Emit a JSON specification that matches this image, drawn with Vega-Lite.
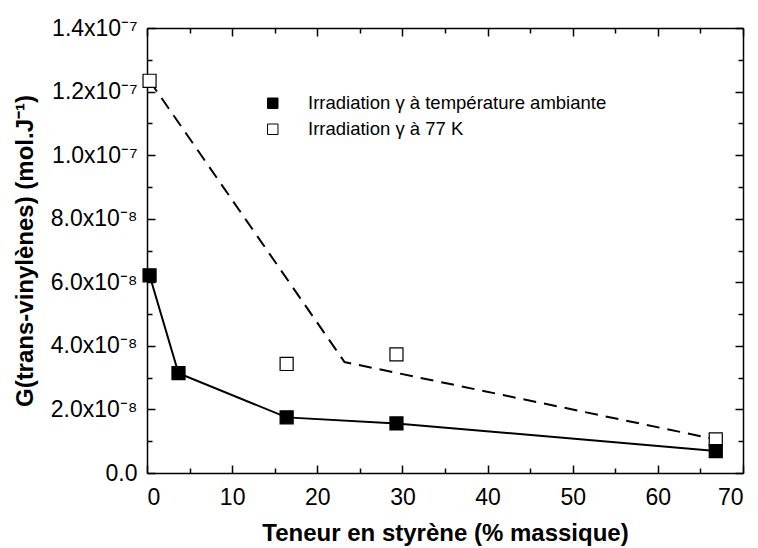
{
  "$schema": "https://vega.github.io/schema/vega-lite/v6.json",
  "width": 596,
  "height": 445,
  "autosize": {"type": "none"},
  "padding": {"left": 147, "top": 28, "right": 15, "bottom": 75},
  "background": "white",
  "config": {
    "view": {"stroke": null},
    "font": "Liberation Sans",
    "axis": {
      "grid": false,
      "domainColor": "black",
      "domainWidth": 1.5,
      "tickColor": "black",
      "tickWidth": 1.5,
      "labelColor": "black",
      "labelFont": "Liberation Sans",
      "labelFontSize": 23,
      "titleColor": "black",
      "titleFont": "Liberation Sans",
      "titleFontSize": 24,
      "titleFontWeight": "bold"
    },
    "legend": {
      "symbolType": "square",
      "symbolSize": 110,
      "symbolStrokeColor": "black",
      "symbolStrokeWidth": 1,
      "symbolOpacity": 1,
      "labelFont": "Liberation Sans",
      "labelFontSize": 18.5,
      "labelColor": "black",
      "labelOffset": 26,
      "labelLimit": 600,
      "rowPadding": 7,
      "padding": 0
    }
  },
  "datasets": {
    "pts": [
      {"x": 0.3, "y": 6.22e-8, "series": "Irradiation γ à température ambiante"},
      {"x": 3.7, "y": 3.14e-8, "series": "Irradiation γ à température ambiante"},
      {"x": 16.4, "y": 1.75e-8, "series": "Irradiation γ à température ambiante"},
      {"x": 29.3, "y": 1.56e-8, "series": "Irradiation γ à température ambiante"},
      {"x": 66.8, "y": 6.9e-9, "series": "Irradiation γ à température ambiante"},
      {"x": 0.3, "y": 1.234e-7, "series": "Irradiation γ à 77 K"},
      {"x": 16.4, "y": 3.43e-8, "series": "Irradiation γ à 77 K"},
      {"x": 29.3, "y": 3.73e-8, "series": "Irradiation γ à 77 K"},
      {"x": 66.8, "y": 1.06e-8, "series": "Irradiation γ à 77 K"}
    ],
    "fit": [
      {"x": 0.3, "y": 1.234e-7},
      {"x": 23.2, "y": 3.49e-8},
      {"x": 66.8, "y": 1.06e-8}
    ]
  },
  "resolve": {"axis": {"x": "independent", "y": "independent"}},
  "layer": [
    {
      "data": {"name": "fit"},
      "mark": {"type": "line", "color": "black", "strokeWidth": 2, "strokeDash": [13, 8]},
      "encoding": {
        "x": {
          "field": "x", "type": "quantitative",
          "scale": {"domain": [0, 70], "nice": false, "zero": true},
          "axis": {
            "orient": "bottom",
            "values": [0, 10, 20, 30, 40, 50, 60, 70],
            "format": "d",
            "tickSize": -8,
            "labelPadding": 21,
            "title": "Teneur en styrène (% massique)",
            "titleX": 298,
            "titleY": 67,
            "titleAlign": "center",
            "titleBaseline": "alphabetic"
          }
        },
        "y": {
          "field": "y", "type": "quantitative",
          "scale": {"domain": [0, 1.4e-7], "nice": false, "zero": true},
          "axis": {
            "orient": "left",
            "values": [0, 2e-8, 4e-8, 6e-8, 8e-8, 1e-7, 1.2e-7, 1.4e-7],
            "labelExpr": "datum.value < 9e-8 ? (datum.value == 0 ? '0.0' : format(datum.value * 1e8, '.1f') + 'x10⁻⁸') : format(datum.value * 1e7, '.1f') + 'x10⁻⁷'",
            "tickSize": -8,
            "labelPadding": 18,
            "title": "G(trans-vinylènes) (mol.J⁻¹)",
            "titleAngle": -90,
            "titleX": -115,
            "titleY": 222.5,
            "titleAlign": "center",
            "titleBaseline": "alphabetic"
          }
        }
      }
    },
    {
      "data": {"name": "pts"},
      "transform": [{"filter": "datum.series == 'Irradiation γ à température ambiante'"}],
      "mark": {"type": "line", "color": "black", "strokeWidth": 2},
      "encoding": {
        "x": {
          "field": "x", "type": "quantitative",
          "axis": {
            "orient": "bottom",
            "values": [5, 15, 25, 35, 45, 55, 65],
            "tickSize": -5,
            "labels": false,
            "domain": false,
            "title": null
          }
        },
        "y": {
          "field": "y", "type": "quantitative",
          "axis": {
            "orient": "left",
            "values": [1e-8, 3e-8, 5e-8, 7e-8, 9e-8, 1.1e-7, 1.3e-7],
            "tickSize": -5,
            "labels": false,
            "domain": false,
            "title": null
          }
        }
      }
    },
    {
      "data": {"name": "pts"},
      "transform": [{"filter": "datum.series == 'Irradiation γ à 77 K'"}],
      "mark": {"type": "point", "shape": "square", "filled": true, "stroke": "black", "strokeWidth": 1.2, "size": 170, "opacity": 1},
      "encoding": {
        "x": {
          "field": "x", "type": "quantitative",
          "axis": {
            "orient": "top",
            "values": [0, 10, 20, 30, 40, 50, 60, 70],
            "tickSize": -8,
            "labels": false,
            "title": null
          }
        },
        "y": {
          "field": "y", "type": "quantitative",
          "axis": {
            "orient": "right",
            "values": [0, 2e-8, 4e-8, 6e-8, 8e-8, 1e-7, 1.2e-7, 1.4e-7],
            "tickSize": -8,
            "labels": false,
            "title": null
          }
        },
        "fill": {
          "field": "series", "type": "nominal",
          "scale": {"domain": ["Irradiation γ à température ambiante", "Irradiation γ à 77 K"], "range": ["black", "white"]},
          "legend": {"title": null, "orient": "none", "legendX": 116.5, "legendY": 66}
        }
      }
    },
    {
      "data": {"name": "pts"},
      "transform": [{"filter": "datum.series == 'Irradiation γ à température ambiante'"}],
      "mark": {"type": "point", "shape": "square", "filled": true, "stroke": "black", "strokeWidth": 1.2, "size": 170, "opacity": 1},
      "encoding": {
        "x": {
          "field": "x", "type": "quantitative",
          "axis": {
            "orient": "top",
            "values": [5, 15, 25, 35, 45, 55, 65],
            "tickSize": -5,
            "labels": false,
            "domain": false,
            "title": null
          }
        },
        "y": {
          "field": "y", "type": "quantitative",
          "axis": {
            "orient": "right",
            "values": [1e-8, 3e-8, 5e-8, 7e-8, 9e-8, 1.1e-7, 1.3e-7],
            "tickSize": -5,
            "labels": false,
            "domain": false,
            "title": null
          }
        },
        "fill": {
          "field": "series", "type": "nominal",
          "scale": {"domain": ["Irradiation γ à température ambiante", "Irradiation γ à 77 K"], "range": ["black", "white"]},
          "legend": {"title": null, "orient": "none", "legendX": 116.5, "legendY": 66}
        }
      }
    }
  ]
}
